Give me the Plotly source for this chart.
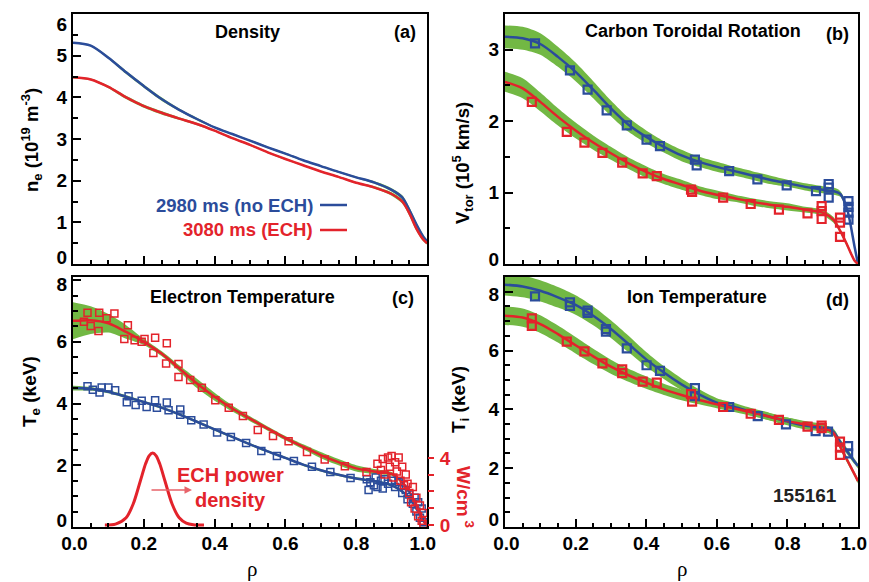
import plotly.graph_objects as go

W, H = 869, 582
FONT = "Liberation Sans, Arial, sans-serif"
BLUE = "#2b4c9b"
RED = "#e3232b"
GREEN = "#72b844"

# ---------------- data ----------------
rho = [0.0, 0.05, 0.1, 0.15, 0.2, 0.25, 0.3, 0.35, 0.4, 0.45, 0.5, 0.55, 0.6,
       0.65, 0.7, 0.75, 0.8, 0.85, 0.9, 0.93, 0.95, 0.97, 0.99, 1.0]

# (a) density, 1e19 m^-3
ne_noech = [5.31, 5.24, 4.95, 4.6, 4.27, 3.96, 3.70, 3.48, 3.28, 3.12, 2.96, 2.80, 2.65,
            2.49, 2.35, 2.21, 2.08, 1.96, 1.78, 1.6, 1.3, 0.95, 0.65, 0.55]
ne_ech = [4.48, 4.43, 4.25, 4.0, 3.79, 3.63, 3.49, 3.36, 3.2, 3.02, 2.86, 2.68, 2.52,
          2.37, 2.22, 2.09, 1.95, 1.84, 1.68, 1.5, 1.22, 0.85, 0.58, 0.5]
ne_err = [0.02, 0.02, 0.03, 0.04, 0.04, 0.04, 0.03, 0.03, 0.02, 0.02, 0.02, 0.02, 0.02,
          0.02, 0.02, 0.02, 0.02, 0.03, 0.04, 0.05, 0.06, 0.05, 0.04, 0.03]

# (b) carbon toroidal rotation, 1e5 km/s
vt_noech = [3.18, 3.16, 3.08, 2.9, 2.69, 2.44, 2.18, 1.95, 1.78, 1.64, 1.52, 1.43, 1.36,
            1.3, 1.24, 1.18, 1.13, 1.08, 1.04, 1.02, 0.98, 0.75, 0.25, 0.0]
vt_ech = [2.55, 2.46, 2.27, 2.06, 1.87, 1.70, 1.55, 1.41, 1.29, 1.19, 1.11, 1.03, 0.97,
          0.92, 0.87, 0.83, 0.80, 0.76, 0.72, 0.62, 0.46, 0.26, 0.05, 0.0]
vt_noech_err = [0.16, 0.16, 0.15, 0.14, 0.13, 0.12, 0.11, 0.10, 0.09, 0.08, 0.08, 0.07, 0.07,
                0.06, 0.06, 0.06, 0.05, 0.05, 0.05, 0.05, 0.04, 0.03, 0.02, 0.02]
vt_ech_err = [0.14, 0.14, 0.13, 0.12, 0.11, 0.10, 0.09, 0.08, 0.08, 0.07, 0.07, 0.06, 0.06,
              0.05, 0.05, 0.05, 0.05, 0.04, 0.04, 0.04, 0.03, 0.03, 0.02, 0.02]
vt_noech_pts_rho = [0.085, 0.184, 0.234, 0.288, 0.345, 0.401, 0.439, 0.538, 0.543, 0.635, 0.715,
                    0.798, 0.881, 0.917, 0.917, 0.917, 0.973, 0.973, 0.973, 0.973]
vt_noech_pts = [3.09, 2.71, 2.44, 2.15, 1.94, 1.74, 1.65, 1.46, 1.38, 1.30, 1.185,
                1.10, 1.02, 1.12, 1.07, 0.93, 0.88, 0.80, 0.72, 0.62]
vt_ech_pts_rho = [0.076, 0.175, 0.225, 0.276, 0.332, 0.39, 0.43, 0.527, 0.53, 0.618, 0.696,
                  0.776, 0.857, 0.897, 0.897, 0.897, 0.949, 0.949, 0.949]
vt_ech_pts = [2.27, 1.85, 1.70, 1.555, 1.42, 1.27, 1.23, 1.04, 1.01, 0.93, 0.84,
              0.76, 0.71, 0.81, 0.74, 0.63, 0.65, 0.58, 0.38]

# (c) electron temperature, keV
te_noech = [4.5, 4.48, 4.38, 4.22, 4.05, 3.87, 3.65, 3.41, 3.16, 2.92, 2.68, 2.45, 2.24,
            2.02, 1.84, 1.69, 1.57, 1.49, 1.35, 1.15, 0.95, 0.6, 0.2, 0.05]
te_ech = [6.68, 6.7, 6.6, 6.32, 6.0, 5.62, 5.14, 4.65, 4.22, 3.84, 3.51, 3.19, 2.88,
          2.6, 2.33, 2.1, 1.9, 1.8, 1.72, 1.45, 1.15, 0.7, 0.2, 0.05]
te_noech_err = [0.08, 0.06, 0.05, 0.05, 0.04, 0.04, 0.04, 0.04, 0.04, 0.04, 0.04, 0.04, 0.04,
                0.04, 0.04, 0.04, 0.04, 0.04, 0.04, 0.04, 0.04, 0.04, 0.03, 0.03]
te_ech_err = [0.6, 0.45, 0.3, 0.22, 0.1, 0.08, 0.1, 0.15, 0.13, 0.1, 0.08, 0.07, 0.07,
              0.08, 0.1, 0.1, 0.1, 0.08, 0.06, 0.05, 0.04, 0.04, 0.03, 0.03]
te_noech_pts_rho = [0.041, 0.056, 0.075, 0.081, 0.1, 0.119, 0.152, 0.157, 0.177, 0.194, 0.208,
                    0.232, 0.237, 0.265, 0.27, 0.303, 0.303, 0.334, 0.369, 0.407, 0.446, 0.489,
                    0.532, 0.576, 0.624, 0.675, 0.727, 0.784,
                    0.83, 0.835, 0.84, 0.85, 0.855, 0.86, 0.87, 0.875, 0.88, 0.89, 0.9, 0.91,
                    0.92, 0.93, 0.94, 0.945, 0.95, 0.96, 0.965, 0.97, 0.975, 0.98, 0.985, 0.99]
te_noech_pts = [4.56, 4.45, 4.36, 4.52, 4.52, 4.43, 4.04, 4.24, 3.95, 4.09, 3.89,
                4.11, 3.86, 4.03, 3.78, 3.81, 3.64, 3.46, 3.32, 3.06, 2.92, 2.72,
                2.46, 2.3, 2.14, 1.95, 1.78, 1.59,
                1.55, 1.2, 1.45, 1.35, 1.6, 1.3, 1.5, 1.25, 1.55, 1.4, 1.5, 1.3,
                1.45, 1.1, 1.2, 0.9, 1.05, 0.75, 0.95, 0.5, 0.8, 0.3, 0.6, 0.15]
te_ech_pts_rho = [0.031, 0.041, 0.05, 0.072, 0.074, 0.095, 0.117, 0.145, 0.155, 0.174, 0.194,
                  0.202, 0.227, 0.232, 0.263, 0.265, 0.298, 0.298, 0.331, 0.364, 0.402, 0.44,
                  0.48, 0.522, 0.565, 0.609, 0.661, 0.711, 0.768, 0.829,
                  0.86, 0.87, 0.875, 0.88, 0.89, 0.895, 0.9, 0.905, 0.91, 0.915, 0.92, 0.925,
                  0.93, 0.935, 0.94, 0.945, 0.95, 0.955, 0.96, 0.965, 0.97, 0.975, 0.98, 0.985,
                  0.99, 0.99]
te_ech_pts = [6.65, 6.94, 6.51, 6.35, 6.94, 6.76, 6.92, 6.09, 6.54, 6.05, 6.0,
              6.09, 5.64, 6.13, 5.3, 5.95, 4.86, 5.28, 4.76, 4.51, 4.11, 3.86,
              3.6, 3.14, 2.95, 2.78, 2.43, 2.19, 1.97, 1.78,
              2.05, 1.85, 2.2, 1.7, 2.25, 1.95, 2.3, 1.6, 2.1, 1.8, 2.25, 1.5,
              1.95, 1.35, 1.7, 1.4, 1.1, 0.8, 1.3, 0.6, 0.95, 0.35, 0.7, 0.2,
              0.1, 0.45]

# ECH power density, W/cm^3
ech_rho = [0.09, 0.12, 0.15, 0.17, 0.19, 0.205, 0.215, 0.225, 0.235, 0.245, 0.26,
           0.28, 0.30, 0.32, 0.34, 0.37]
ech_pd = [0.0, 0.05, 0.43, 1.25, 2.61, 3.65, 4.13, 4.3, 4.13, 3.65, 2.61,
          1.25, 0.43, 0.11, 0.02, 0.0]

# (d) ion temperature, keV
ti_noech = [8.24, 8.18, 8.03, 7.81, 7.55, 7.18, 6.73, 6.22, 5.7, 5.25, 4.85, 4.51, 4.23,
            4.08, 3.91, 3.75, 3.59, 3.45, 3.36, 3.24, 2.88, 2.56, 2.23, 2.07]
ti_ech = [7.18, 7.12, 6.9, 6.56, 6.18, 5.8, 5.45, 5.16, 4.91, 4.68, 4.49, 4.32, 4.17,
          4.03, 3.89, 3.75, 3.6, 3.49, 3.38, 3.2, 2.72, 2.26, 1.8, 1.56]
ti_noech_err = [0.37, 0.37, 0.36, 0.35, 0.33, 0.32, 0.3, 0.28, 0.25, 0.22, 0.2, 0.17, 0.15,
                0.14, 0.13, 0.13, 0.13, 0.13, 0.12, 0.11, 0.1, 0.1, 0.09, 0.08]
ti_ech_err = [0.31, 0.31, 0.3, 0.29, 0.28, 0.26, 0.24, 0.22, 0.21, 0.19, 0.18, 0.15, 0.13,
              0.12, 0.12, 0.12, 0.12, 0.11, 0.11, 0.1, 0.1, 0.09, 0.08, 0.08]
ti_noech_pts_rho = [0.085, 0.184, 0.184, 0.234, 0.234, 0.286, 0.286, 0.345, 0.401, 0.439, 0.538,
                    0.538, 0.635, 0.716, 0.796, 0.88, 0.915, 0.972, 0.972]
ti_noech_pts = [7.84, 7.64, 7.52, 7.36, 7.28, 6.73, 6.64, 6.07, 5.5, 5.31, 4.72,
                4.45, 4.08, 3.77, 3.49, 3.26, 3.24, 2.75, 2.5]
ti_ech_pts_rho = [0.076, 0.076, 0.175, 0.225, 0.276, 0.332, 0.332, 0.39, 0.43, 0.527, 0.53,
                  0.618, 0.696, 0.776, 0.857, 0.897, 0.897, 0.949, 0.949, 0.949]
ti_ech_pts = [7.09, 6.84, 6.3, 5.97, 5.56, 5.36, 5.23, 4.94, 4.91, 4.52, 4.26,
              4.08, 3.85, 3.64, 3.41, 3.45, 3.36, 2.9, 2.7, 2.45]

# ticks and tick labels (end labels sit slightly inside the frame, as in the original)
x_ticks = [0.0, 0.2, 0.4, 0.6, 0.8, 1.0]
x_label_pos = [0.004, 0.2, 0.4, 0.6, 0.8, 0.988]
x_label_txt = ["0.0", "0.2", "0.4", "0.6", "0.8", "1.0"]
a_label_pos = [0.17, 1, 2, 3, 4, 5, 5.76]
a_label_txt = ["0", "1", "2", "3", "4", "5", "6"]
b_label_pos = [0.06, 1, 2, 3]
b_label_txt = ["0", "1", "2", "3"]
c_label_pos = [0.23, 2, 4, 6, 7.85]
c_label_txt = ["0", "2", "4", "6", "8"]
d_label_pos = [0.26, 2, 4, 6, 7.92]
d_label_txt = ["0", "2", "4", "6", "8"]
ech_label_pos = [0, 4]
ech_label_txt = ["0", "4"]
ech_minor_pos = [1, 2, 3]

# ---------------- figure ----------------
fig = go.Figure()


def band(xa, ya, vals, err):
    lo = [v - e for v, e in zip(vals, err)]
    hi = [v + e for v, e in zip(vals, err)]
    fig.add_trace(go.Scatter(x=rho, y=lo, mode="lines", xaxis=xa, yaxis=ya,
                             line=dict(width=0, shape="spline", smoothing=0.8, color=GREEN),
                             showlegend=False, hoverinfo="skip"))
    fig.add_trace(go.Scatter(x=rho, y=hi, mode="lines", xaxis=xa, yaxis=ya, fill="tonexty",
                             fillcolor=GREEN,
                             line=dict(width=0, shape="spline", smoothing=0.8, color=GREEN),
                             showlegend=False, hoverinfo="skip"))


def curve(xa, ya, vals, color):
    fig.add_trace(go.Scatter(x=rho, y=vals, mode="lines", xaxis=xa, yaxis=ya,
                             line=dict(width=2.5, color=color, shape="spline", smoothing=0.8),
                             showlegend=False))


def points(xa, ya, xs, ys, color, size=8, lw=2.2):
    fig.add_trace(go.Scatter(x=xs, y=ys, mode="markers", xaxis=xa, yaxis=ya,
                             marker=dict(symbol="square-open", size=size, color=color,
                                         line=dict(width=lw, color=color)),
                             showlegend=False))


def holder(xa, ya):
    # empty trace so that a label-only overlay axis gets drawn
    fig.add_trace(go.Scatter(x=[None], y=[None], mode="markers", xaxis=xa, yaxis=ya,
                             showlegend=False, hoverinfo="skip"))


# (a)
band("x", "y", ne_noech, ne_err)
band("x", "y", ne_ech, ne_err)
curve("x", "y", ne_noech, BLUE)
curve("x", "y", ne_ech, RED)
# (b)
band("x2", "y2", vt_noech, vt_noech_err)
band("x2", "y2", vt_ech, vt_ech_err)
curve("x2", "y2", vt_noech, BLUE)
curve("x2", "y2", vt_ech, RED)
points("x2", "y2", vt_noech_pts_rho, vt_noech_pts, BLUE)
points("x2", "y2", vt_ech_pts_rho, vt_ech_pts, RED)
# (c)
band("x3", "y3", te_noech, te_noech_err)
band("x3", "y3", te_ech, te_ech_err)
curve("x3", "y3", te_noech, BLUE)
curve("x3", "y3", te_ech, RED)
points("x3", "y3", te_noech_pts_rho, te_noech_pts, BLUE, size=7, lw=1.5)
points("x3", "y3", te_ech_pts_rho, te_ech_pts, RED, size=7, lw=1.5)
fig.add_trace(go.Scatter(x=ech_rho, y=ech_pd, mode="lines", xaxis="x3", yaxis="y5",
                         line=dict(width=3, color=RED, shape="spline", smoothing=0.8),
                         showlegend=False))
# (d)
band("x4", "y4", ti_noech, ti_noech_err)
band("x4", "y4", ti_ech, ti_ech_err)
curve("x4", "y4", ti_noech, BLUE)
curve("x4", "y4", ti_ech, RED)
points("x4", "y4", ti_noech_pts_rho, ti_noech_pts, BLUE)
points("x4", "y4", ti_ech_pts_rho, ti_ech_pts, RED)

holder("x", "y6")
holder("x2", "y7")
holder("x3", "y8")
holder("x4", "y9")
holder("x5", "y3")
holder("x6", "y4")


def px(x):
    return x / W


def py(y):
    return 1 - y / H


LEFT = [px(73), px(427)]
RIGHT = [px(505), px(858)]
TOP = [py(264), py(14)]
BOT = [py(527), py(277)]

tickfont = dict(family=FONT, size=19, color="black", weight="bold")


def xax(domain, anchor):
    return dict(domain=domain, anchor=anchor, range=[0, 1], tickvals=x_ticks,
                showticklabels=False, ticks="inside", ticklen=8, tickwidth=1.5,
                tickcolor="black",
                minor=dict(dtick=0.05, tick0=0, ticks="inside", ticklen=4, tickwidth=1.5,
                           tickcolor="black"),
                showline=True, mirror=True, linecolor="black", linewidth=2,
                showgrid=False, zeroline=False, automargin=False)


def xlab(over, anchor):
    return dict(overlaying=over, anchor=anchor, side="bottom", range=[0, 1],
                tickmode="array", tickvals=x_label_pos, ticktext=x_label_txt,
                tickfont=tickfont, ticks="", showline=False, showgrid=False,
                zeroline=False, automargin=False, ticklabelstandoff=3)


def yax(domain, anchor, rng, dtick):
    return dict(domain=domain, anchor=anchor, range=rng, dtick=dtick, tick0=0,
                showticklabels=False, ticks="inside", ticklen=8, tickwidth=1.5,
                tickcolor="black",
                minor=dict(dtick=0.5, tick0=0, ticks="inside", ticklen=5, tickwidth=1.5,
                           tickcolor="black"),
                showline=True, mirror=True, linecolor="black", linewidth=2,
                showgrid=False, zeroline=False, automargin=False)


def ylab(over, anchor, rng, pos, txt):
    return dict(overlaying=over, anchor=anchor, side="left", range=rng, tickmode="array",
                tickvals=pos, ticktext=txt, tickfont=tickfont, ticks="", showline=False,
                showgrid=False, zeroline=False, automargin=False, ticklabelstandoff=5)


fig.update_layout(
    width=W, height=H, margin=dict(l=0, r=0, t=0, b=0),
    paper_bgcolor="white", plot_bgcolor="rgba(0,0,0,0)", showlegend=False,
    xaxis=xax(LEFT, "y"),
    yaxis=yax(TOP, "x", [0, 6], 1),
    xaxis2=xax(RIGHT, "y2"),
    yaxis2=yax(TOP, "x2", [0, 3.5], 1),
    xaxis3=xax(LEFT, "y3"),
    yaxis3=yax(BOT, "x3", [0, 8.1], 2),
    xaxis4=xax(RIGHT, "y4"),
    yaxis4=yax(BOT, "x4", [0, 8.5], 2),
    xaxis5=xlab("x3", "y3"),
    xaxis6=xlab("x4", "y4"),
    yaxis5=dict(overlaying="y3", anchor="x3", side="right", range=[-0.12, 14.8],
                tickmode="array", tickvals=ech_label_pos, ticktext=ech_label_txt,
                ticks="outside", ticklen=6, tickwidth=1.5, tickcolor=RED,
                minor=dict(tickmode="array", tickvals=ech_minor_pos, ticks="outside",
                           ticklen=6, tickwidth=1.5, tickcolor=RED),
                tickfont=dict(family=FONT, size=19, color=RED, weight="bold"),
                showline=False, showgrid=False, zeroline=False, automargin=False,
                ticklabelstandoff=2),
    yaxis6=ylab("y", "x", [0, 6], a_label_pos, a_label_txt),
    yaxis7=ylab("y2", "x2", [0, 3.5], b_label_pos, b_label_txt),
    yaxis8=ylab("y3", "x3", [0, 8.1], c_label_pos, c_label_txt),
    yaxis9=ylab("y4", "x4", [0, 8.5], d_label_pos, d_label_txt),
)

ann = []


def text(x, y, s, size=18, color="black", angle=0, xanchor="center", family=FONT, bold=True):
    ann.append(dict(x=px(x), y=py(y), xref="paper", yref="paper", text=s, showarrow=False,
                    textangle=angle, xanchor=xanchor, yanchor="middle",
                    font=dict(family=family, size=size, color=color,
                              weight="bold" if bold else "normal")))


# panel titles
text(247, 32, "Density")
text(405, 32, "(a)")
text(693, 31, "Carbon Toroidal Rotation")
text(837, 34, "(b)")
text(242, 297, "Electron Temperature")
text(403, 298, "(c)")
text(697, 297, "Ion Temperature")
text(837, 300, "(d)")
text(805, 495, "155161", size=19, color="#222222")
# axis titles
text(31, 140, "n<sub>e</sub> (10<sup>19</sup> m<sup>-3</sup>)", size=18.5, angle=-90)
text(462, 163, "V<sub>tor</sub> (10<sup>5</sup> km/s)", size=18.5, angle=-90)
text(31, 392, "T<sub>e</sub> (keV)", size=19, angle=-90)
text(460, 400, "T<sub>i</sub> (keV)", size=19, angle=-90)
text(465, 497, "W/cm<sup> 3</sup>", size=19, angle=90, color=RED)
text(252, 569, "ρ", size=21, family="Liberation Serif, serif", bold=False)
text(682, 569, "ρ", size=21, family="Liberation Serif, serif", bold=False)
# legend
text(315, 205, "2980 ms (no ECH)", size=18.5, color=BLUE, xanchor="right")
text(315, 230, "3080 ms (ECH)", size=18.5, color=RED, xanchor="right")
# ECH annotation
text(230, 475, "ECH power", size=20, color=RED)
text(230, 500, "density", size=20, color=RED)
ann.append(dict(x=px(192), y=py(490), xref="paper", yref="paper", ax=-42, ay=0,
                text="", showarrow=True, arrowhead=2, arrowsize=1, arrowwidth=1.5,
                arrowcolor="#e8636a"))

fig.update_layout(annotations=ann)

fig.add_shape(type="line", xref="paper", yref="paper", x0=px(320), x1=px(347),
              y0=py(205), y1=py(205), line=dict(color=BLUE, width=2.5))
fig.add_shape(type="line", xref="paper", yref="paper", x0=px(320), x1=px(347),
              y0=py(230), y1=py(230), line=dict(color=RED, width=2.5))

fig.write_html("out.html", config={"displayModeBar": False},
               post_script="document.body.style.margin='0px';"
                           "document.body.style.padding='0px';"
                           "document.body.style.overflow='hidden';")
